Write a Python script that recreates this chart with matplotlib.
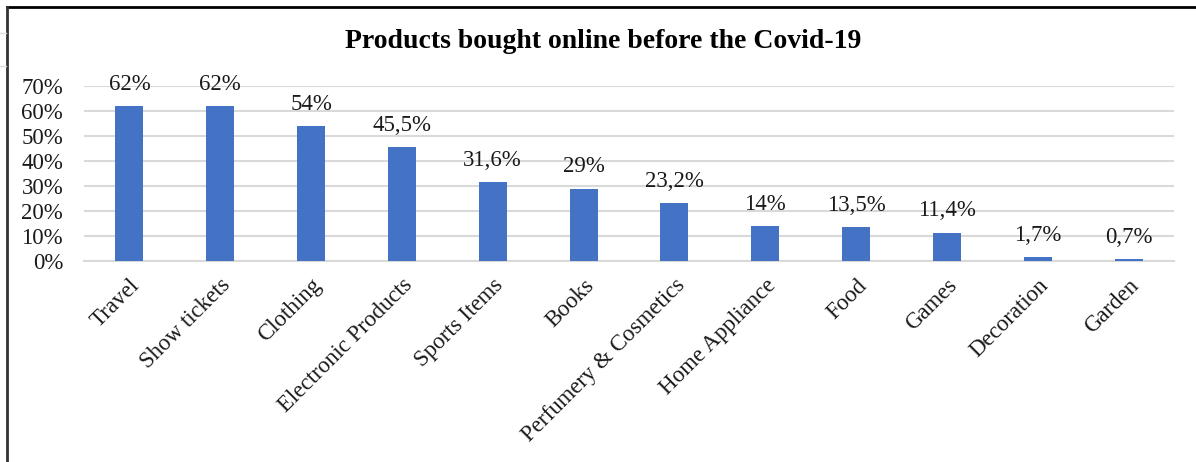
import matplotlib
matplotlib.use("Agg")
import matplotlib.pyplot as plt
from matplotlib.lines import Line2D
from matplotlib.ticker import FuncFormatter

categories = ["Travel", "Show tickets", "Clothing", "Electronic Products",
              "Sports Items", "Books", "Perfumery & Cosmetics", "Home Appliance",
              "Food", "Games", "Decoration", "Garden"]
shares = [62, 62, 54, 45.5, 31.6, 29, 23.2, 14, 13.5, 11.4, 1.7, 0.7]
value_labels = ["62%", "62%", "54%", "45,5%", "31,6%", "29%", "23,2%",
                "14%", "13,5%", "11,4%", "1,7%", "0,7%"]
y_ticks = [0, 10, 20, 30, 40, 50, 60, 70]

plt.rcParams["font.family"] = ["Liberation Serif", "DejaVu Serif"]

fig = plt.figure(figsize=(11.96, 4.62), dpi=100)
ax = fig.add_axes([84 / 1196, 1 - 261 / 462, (1174 - 84) / 1196, (261 - 86) / 462])

x = range(len(categories))
ax.bar(x, shares, width=0.31, color="#4472C4", zorder=3)

for xi, v, lab in zip(x, shares, value_labels):
    ax.annotate(lab, (xi, v), xytext=(0, 8), textcoords="offset points",
                ha="center", va="bottom", fontsize=16.5, color="#1a1a1a")

ax.set_xlim(-0.5, len(categories) - 0.5)
ax.set_ylim(0, 70)
ax.set_yticks(y_ticks)
ax.yaxis.set_major_formatter(FuncFormatter(lambda v, _: f"{v:.0f}%"))
ax.grid(axis="y", color="#d9d9d9", linewidth=1.5, zorder=0)
ax.set_axisbelow(True)
for side in ("top", "right", "left"):
    ax.spines[side].set_visible(False)
ax.spines["bottom"].set_color("#d9d9d9")
ax.spines["bottom"].set_linewidth(1.5)
ax.tick_params(axis="both", length=0, labelsize=16.5, colors="#1a1a1a")
ax.tick_params(axis="y", pad=15)

ax.set_xticks(list(x))
ax.set_xticklabels(categories, rotation=45, ha="right", rotation_mode="anchor")
ax.tick_params(axis="x", pad=10)

fig.text(0.504, 1 - 42 / 462, "Products bought online before the Covid-19",
         ha="center", va="center", fontsize=20, fontweight="bold", color="black")

# Outer frame: top and left edges
fig.add_artist(Line2D([7 / 1196, 1], [1 - 7 / 462, 1 - 7 / 462], color="black", linewidth=2))
fig.add_artist(Line2D([7 / 1196, 7 / 1196], [0, 1 - 7 / 462], color="#333333", linewidth=2))
for yy in (33, 66):
    fig.add_artist(Line2D([0, 6 / 1196], [1 - yy / 462, 1 - yy / 462], color="#dddddd", linewidth=1))

fig.savefig("out.png", dpi=100)
